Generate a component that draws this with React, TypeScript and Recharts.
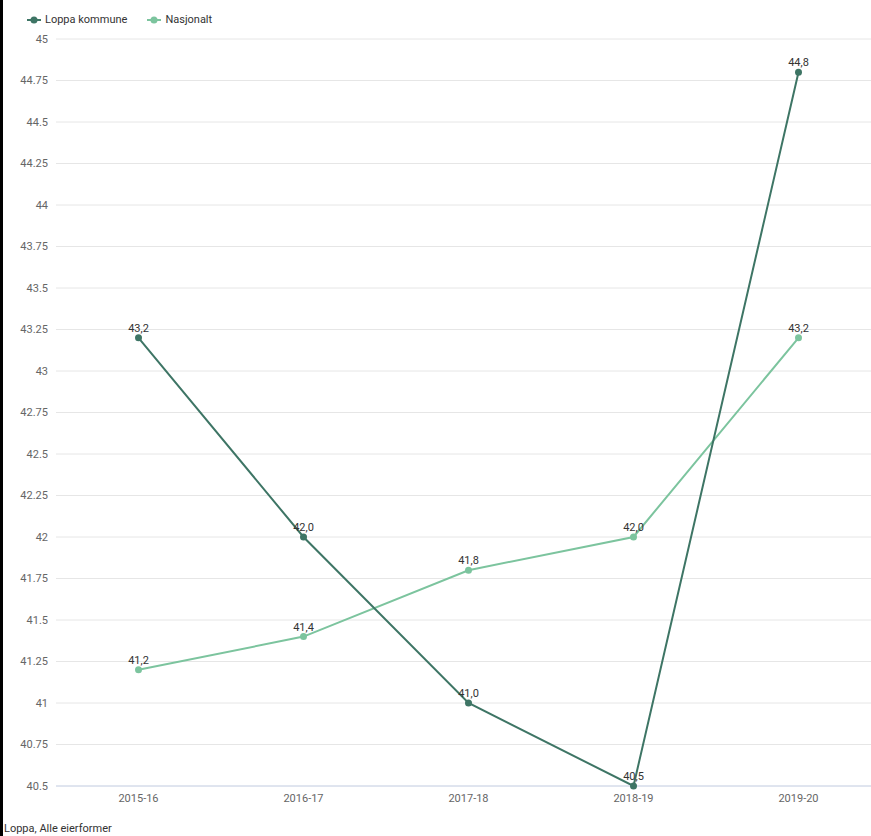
import { LineChart, Line, XAxis, YAxis, CartesianGrid, LabelList } from 'recharts';

const years = ['2015-16', '2016-17', '2017-18', '2018-19', '2019-20'];
const loppa = [43.2, 42.0, 41.0, 40.5, 44.8];
const nasjonalt = [41.2, 41.4, 41.8, 42.0, 43.2];
const yTicks = [
  40.5, 40.75, 41, 41.25, 41.5, 41.75, 42, 42.25, 42.5, 42.75, 43, 43.25, 43.5, 43.75, 44, 44.25,
  44.5, 44.75, 45,
];

const DARK = '#3e7565';
const LIGHT = '#7cc49e';
const FONT = 'Roboto, "Noto Sans", sans-serif';

const data = years.map((year, i) => ({ year, loppa: loppa[i], nasjonalt: nasjonalt[i] }));

const fmt = (v: unknown) => Number(v).toFixed(1).replace('.', ',');

function LegendItem({ color, label }: { color: string; label: string }) {
  return (
    <span style={{ display: 'inline-flex', alignItems: 'center', marginRight: 20 }}>
      <svg width={14} height={10} style={{ marginRight: 4 }}>
        <line x1={0} y1={5} x2={14} y2={5} stroke={color} strokeWidth={2} />
        <circle cx={7} cy={5} r={3.5} fill={color} />
      </svg>
      <span>{label}</span>
    </span>
  );
}

export default function App() {
  return (
    <div
      style={{
        position: 'absolute',
        left: 0,
        top: 0,
        width: 871,
        height: 836,
        overflow: 'hidden',
        background: '#fff',
        fontFamily: FONT,
      }}
    >
      <div
        style={{
          position: 'absolute',
          left: 27,
          top: 13,
          fontSize: 11,
          color: '#333',
          display: 'flex',
          alignItems: 'center',
        }}
      >
        <LegendItem color={DARK} label="Loppa kommune" />
        <LegendItem color={LIGHT} label="Nasjonalt" />
      </div>
      <div style={{ position: 'absolute', left: 0, top: 0 }}>
        <LineChart width={881} height={810} data={data} margin={{ top: 39, right: 0, left: 0, bottom: 0 }}>
          <CartesianGrid horizontal vertical={false} stroke="#e6e6e6" />
          <XAxis
            dataKey="year"
            height={24}
            padding={{ left: 82.5, right: 82.5 }}
            tickLine={false}
            axisLine={{ stroke: '#ccd6eb' }}
            tick={{ fontSize: 11, fill: '#666', fontFamily: FONT }}
          />
          <YAxis
            width={56}
            domain={[40.5, 45]}
            ticks={yTicks}
            interval={0}
            tickLine={false}
            axisLine={false}
            tick={{ fontSize: 11, fill: '#666', fontFamily: FONT }}
          />
          <Line
            dataKey="nasjonalt"
            stroke={LIGHT}
            strokeWidth={2}
            dot={{ r: 3.5, fill: LIGHT, stroke: LIGHT, strokeWidth: 0 }}
            isAnimationActive={false}
          >
            <LabelList
              dataKey="nasjonalt"
              position="top"
              offset={6}
              formatter={fmt}
              style={{ fontSize: 11, fill: '#333', fontFamily: FONT }}
            />
          </Line>
          <Line
            dataKey="loppa"
            stroke={DARK}
            strokeWidth={2}
            dot={{ r: 3.5, fill: DARK, stroke: DARK, strokeWidth: 0 }}
            isAnimationActive={false}
          >
            <LabelList
              dataKey="loppa"
              position="top"
              offset={6}
              formatter={fmt}
              style={{ fontSize: 11, fill: '#333', fontFamily: FONT }}
            />
          </Line>
        </LineChart>
      </div>
      <div style={{ position: 'absolute', left: 4, top: 822, fontSize: 11, color: '#333' }}>
        Loppa, Alle eierformer
      </div>
      <div style={{ position: 'absolute', left: 0, top: 0, width: 3, height: 836, background: '#000' }} />
    </div>
  );
}
